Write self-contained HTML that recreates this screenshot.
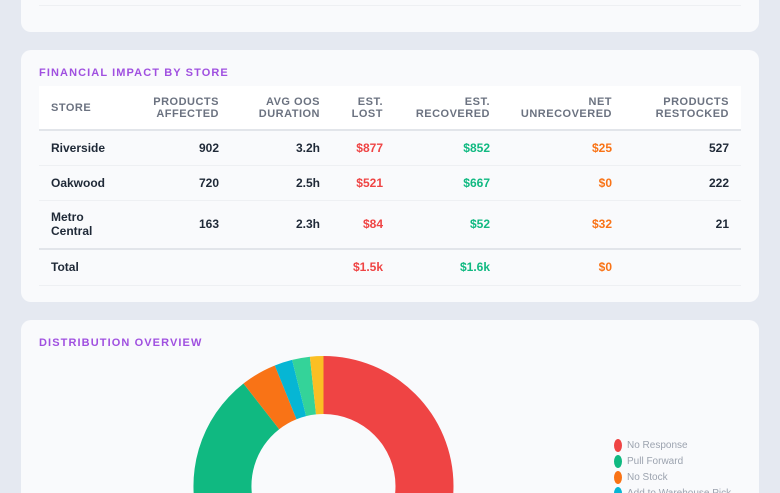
<!DOCTYPE html>
<html><head><meta charset="utf-8"><style>
*{margin:0;padding:0;box-sizing:border-box}
html,body{width:780px;height:493px;overflow:hidden}
body{background:#e5e9f1;font-family:"Liberation Sans",sans-serif;position:relative}
.card{position:absolute;left:21px;width:738px;background:#f9fafc;border-radius:10px}
.ttl{position:absolute;left:18px;font-size:11px;font-weight:bold;letter-spacing:1.1px;color:#a050e0}
table{position:absolute;left:18px;top:36px;width:702px;border-collapse:collapse;font-size:12px;table-layout:fixed}
th{background:#fff;color:#6b7280;font-size:11px;font-weight:bold;letter-spacing:.5px;text-align:right;padding:0 12px;height:44px;line-height:12px;border-bottom:2px solid #e2e5ea}
th:first-child,td:first-child{text-align:left}
td{text-align:right;padding:0 12px;font-weight:bold;color:#1f2937;border-bottom:1px solid #eef0f3;line-height:14px}
.r{color:#ef4444}.g{color:#10b981}.o{color:#f97316}
tr.tot td{border-top:2px solid #e2e5ea}
.lg{position:absolute;font-size:10px;color:#9ca3af}
.lg div{height:16px;line-height:13px;position:relative;padding-left:13px;white-space:nowrap}
.lg span{position:absolute;left:0;top:0;width:8px;height:13px;border-radius:50%}
</style></head><body>
<div class="card" style="top:-20px;height:52px"><div style="position:absolute;left:18px;right:18px;top:25px;border-top:1px solid #eef0f3"></div></div>
<div class="card" style="top:50px;height:252px">
<div class="ttl" style="top:17px">FINANCIAL IMPACT BY STORE</div>
<table>
<colgroup><col style="width:100px"><col style="width:92px"><col style="width:101px"><col style="width:63px"><col style="width:107px"><col style="width:122px"><col style="width:117px"></colgroup>
<tr><th>STORE</th><th>PRODUCTS<br>AFFECTED</th><th>AVG OOS<br>DURATION</th><th>EST.<br>LOST</th><th>EST.<br>RECOVERED</th><th>NET<br>UNRECOVERED</th><th>PRODUCTS<br>RESTOCKED</th></tr>
<tr style="height:35px"><td>Riverside</td><td>902</td><td>3.2h</td><td class="r">$877</td><td class="g">$852</td><td class="o">$25</td><td>527</td></tr>
<tr style="height:35px"><td>Oakwood</td><td>720</td><td>2.5h</td><td class="r">$521</td><td class="g">$667</td><td class="o">$0</td><td>222</td></tr>
<tr style="height:49px"><td>Metro<br>Central</td><td>163</td><td>2.3h</td><td class="r">$84</td><td class="g">$52</td><td class="o">$32</td><td>21</td></tr>
<tr class="tot" style="height:36px"><td>Total</td><td></td><td></td><td class="r">$1.5k</td><td class="g">$1.6k</td><td class="o">$0</td><td></td></tr>
</table>
</div>
<div class="card" style="top:320px;height:173px;border-radius:10px 10px 0 0">
<div class="ttl" style="top:17px">DISTRIBUTION OVERVIEW</div>
</div>
<svg style="position:absolute;left:0;top:0" width="780" height="493">
<g transform="translate(323.5,486)">
<path d="M0,-130 A130,130 0 0 1 0,130 L0,72 A72,72 0 0 0 0,-72Z" fill="#ef4444"/>
<path d="M0,130 A130,130 0 0 1 -80,-102.5 L-44.3,-56.8 A72,72 0 0 0 0,72Z" fill="#10b981"/>
<path d="M-80,-102.5 A130,130 0 0 1 -48.7,-120.5 L-27,-66.8 A72,72 0 0 0 -44.3,-56.8Z" fill="#f97316"/>
<path d="M-48.7,-120.5 A130,130 0 0 1 -31.4,-126.1 L-17.4,-69.9 A72,72 0 0 0 -27,-66.8Z" fill="#06b6d4"/>
<path d="M-31.4,-126.1 A130,130 0 0 1 -13.6,-129.3 L-7.5,-71.6 A72,72 0 0 0 -17.4,-69.9Z" fill="#34d399"/>
<path d="M-13.6,-129.3 A130,130 0 0 1 0,-130 L0,-72 A72,72 0 0 0 -7.5,-71.6Z" fill="#fbbf24"/>
</g></svg>
<div class="lg" style="left:614px;top:439px;height:54px;overflow:hidden">
<div><span style="background:#ef4444"></span>No Response</div>
<div><span style="background:#10b981"></span>Pull Forward</div>
<div><span style="background:#f97316"></span>No Stock</div>
<div><span style="background:#06b6d4"></span>Add to Warehouse Pick</div>
</div>
</body></html>
